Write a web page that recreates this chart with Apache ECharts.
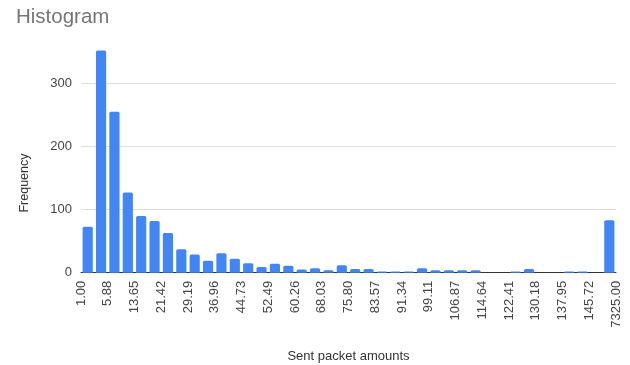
<!DOCTYPE html>
<html>
<head>
<meta charset="utf-8">
<script src="https://cdn.jsdelivr.net/npm/echarts@6/dist/echarts.min.js"></script>
<style>
  html, body { margin: 0; padding: 0; background: #fff; }
  #chart { width: 630px; height: 365px; }
</style>
</head>
<body>
<div id="chart"></div>
<script>
// Bucket counts of sent packet amounts (40 buckets, the last one is the overflow bucket)
const frequencies = [73, 352, 255, 127, 90, 82, 63, 37, 29, 19,
                     31, 22, 15, 9, 14, 11, 5, 7, 4, 12,
                     6, 6, 2, 2, 2, 7, 4, 4, 4, 4,
                     0, 0, 2, 6, 0, 0, 2, 2, 0, 83];
// Boundary labels, one every second bucket edge
const edgeLabels = ['1.00', '5.88', '13.65', '21.42', '29.19', '36.96', '44.73',
                    '52.49', '60.26', '68.03', '75.80', '83.57', '91.34', '99.11',
                    '106.87', '114.64', '122.41', '130.18', '137.95', '145.72', '7325.00'];
const bucketNames = frequencies.map((_, i) => 'b' + i);

const font = 'Liberation Sans, Arial, sans-serif';
const chart = echarts.init(document.getElementById('chart'), null, { renderer: 'canvas' });

chart.setOption({
  animation: false,
  backgroundColor: '#ffffff',
  title: {
    text: 'Histogram',
    left: 11, top: 2,
    textStyle: { fontFamily: font, fontSize: 20.5, fontWeight: 'normal', color: '#757575' }
  },
  graphic: [{
    type: 'text',
    x: 25, y: 183,
    rotation: Math.PI / 2,
    style: {
      text: 'Frequency',
      fontFamily: font, fontSize: 12.5, fill: '#333',
      textAlign: 'center', textVerticalAlign: 'middle'
    }
  }],
  grid: { left: 81, right: 14, top: 45.5, bottom: 92.3, containLabel: false, outerBoundsMode: 'none' },
  xAxis: [
    {
      type: 'category',
      data: bucketNames,
      boundaryGap: true,
      axisLine: { show: true, lineStyle: { color: '#333', width: 1 } },
      axisTick: { show: false },
      axisLabel: { show: false },
      splitLine: { show: false }
    },
    {
      type: 'value',
      position: 'bottom',
      min: 0, max: 40, interval: 2,
      axisLine: { show: false },
      axisTick: { show: false },
      splitLine: { show: false },
      axisLabel: {
        rotate: 90,
        margin: 8,
        fontFamily: font, fontSize: 13, color: '#444',
        formatter: v => edgeLabels[Math.round(v / 2)]
      },
      name: 'Sent packet amounts',
      nameLocation: 'middle',
      nameGap: 77,
      nameTextStyle: { fontFamily: font, fontSize: 13, color: '#333' }
    }
  ],
  yAxis: {
    type: 'value',
    min: 0, max: 360, interval: 100,
    axisLine: { show: false },
    axisTick: { show: false },
    axisLabel: {
      margin: 9,
      fontFamily: font, fontSize: 13, color: '#444',
      formatter: v => (v % 100 === 0 ? String(v) : '')
    },
    splitLine: { show: true, lineStyle: { color: ['#dddddd', '#dddddd', '#dddddd', '#dddddd', 'rgba(0,0,0,0)'], width: 1 } }
  },
  series: [{
    type: 'bar',
    xAxisIndex: 0,
    data: frequencies,
    barCategoryGap: '24%',
    itemStyle: { color: '#4285f4', borderRadius: [1.5, 1.5, 0, 0] }
  }]
});
</script>
</body>
</html>
